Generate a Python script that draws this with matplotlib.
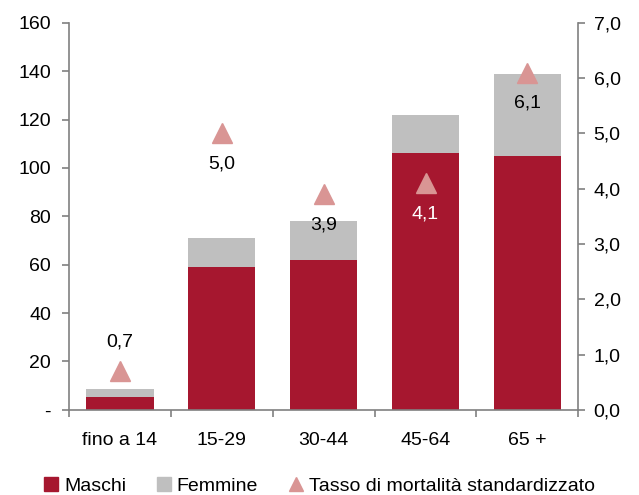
import matplotlib.pyplot as plt
from matplotlib.ticker import FuncFormatter
from matplotlib.lines import Line2D
from matplotlib.patches import Patch
import numpy as np

plt.rcParams['font.family'] = ['Liberation Sans', 'DejaVu Sans']

categorie = ["fino a 14", "15-29", "30-44", "45-64", "65 +"]
maschi = [5.5, 59, 62, 106, 105]
femmine = [3.3, 12, 16, 16, 34]
tasso = [0.7, 5.0, 3.9, 4.1, 6.1]

rosso = "#A6172F"
grigio = "#BFBFBF"
rosa = "#D99594"
asse = "#808080"

fig = plt.figure(figsize=(6.39, 4.95), dpi=100)
ax = fig.add_axes([0.108, 0.172, 0.797, 0.782])
x = np.arange(len(categorie))

ax.bar(x, maschi, width=0.66, color=rosso, zorder=2)
ax.bar(x, femmine, width=0.66, bottom=maschi, color=grigio, zorder=2)
ax.set_ylim(0, 160)
ax.set_xlim(-0.5, len(categorie) - 0.5)
ax.set_yticks(range(0, 161, 20))
ax.yaxis.set_major_formatter(FuncFormatter(lambda v, p: "-" if v == 0 else "%d" % v))
ax.set_xticks(x)
ax.set_xticklabels(categorie)
ax.set_xticks(np.arange(-0.5, len(categorie)), minor=True)
ax.tick_params(axis='x', which='major', length=0, pad=16, labelsize=14)
ax.tick_params(axis='x', which='minor', length=5, color=asse, width=1.2)
ax.tick_params(axis='y', length=5, color=asse, width=1.2, labelsize=14, pad=8)
for s in ['top', 'right']:
    ax.spines[s].set_visible(False)
for s in ['left', 'bottom']:
    ax.spines[s].set_color(asse)
    ax.spines[s].set_linewidth(1.2)

ax2 = ax.twinx()
ax2.set_ylim(0, 7)
ax2.set_yticks(np.arange(0, 7.01, 1))
ax2.yaxis.set_major_formatter(FuncFormatter(lambda v, p: ("%.1f" % v).replace(".", ",")))
ax2.tick_params(axis='y', length=5, color=asse, width=1.2, labelsize=14, pad=6)
for s in ['top', 'left', 'bottom']:
    ax2.spines[s].set_visible(False)
ax2.spines['right'].set_color(asse)
ax2.spines['right'].set_linewidth(1.2)
ax2.plot(x, tasso, linestyle='none', marker='^', markersize=15, color=rosa, zorder=3)

for i, v in enumerate(tasso):
    testo = ("%.1f" % v).replace(".", ",")
    col = "white" if i == 3 else "black"
    if i == 0:
        ax2.annotate(testo, (i, v), xytext=(0, 21), textcoords='offset points',
                     ha='center', va='center', fontsize=14, color=col)
    else:
        ax2.annotate(testo, (i, v), xytext=(0, -22), textcoords='offset points',
                     ha='center', va='center', fontsize=14, color=col)

maniglie = [Patch(color=rosso, label="Maschi"),
            Patch(color=grigio, label="Femmine"),
            Line2D([], [], linestyle='none', marker='^', markersize=10, color=rosa,
                   label="Tasso di mortalità standardizzato")]
fig.legend(handles=maniglie, loc='lower center', bbox_to_anchor=(0.5, -0.035), ncol=3,
           frameon=False, fontsize=14, handlelength=0.7, handleheight=0.7,
           handletextpad=0.3, columnspacing=1.6)

fig.savefig("out.png", dpi=100)
